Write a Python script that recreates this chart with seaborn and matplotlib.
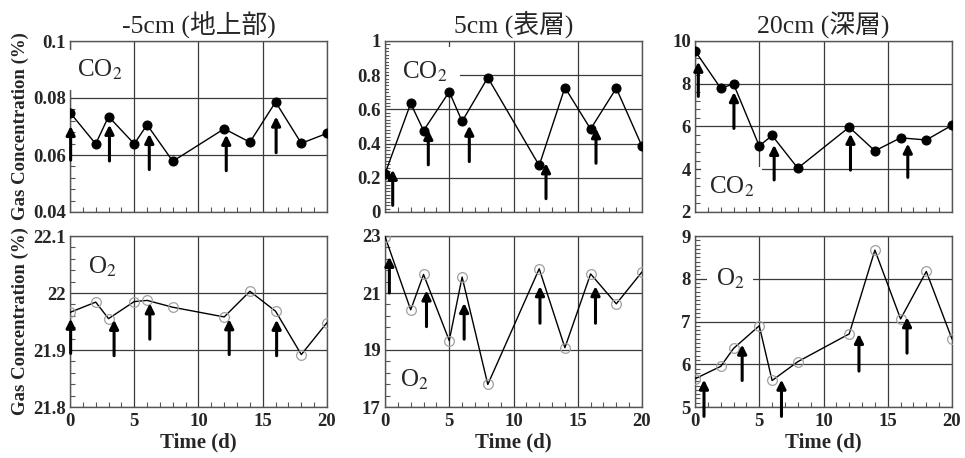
import numpy as np
import matplotlib
matplotlib.use('Agg')
import matplotlib.pyplot as plt
import seaborn as sns
from matplotlib.ticker import MultipleLocator, AutoMinorLocator, FixedLocator, FuncFormatter

sns.set_style('white')
plt.rcParams['font.family'] = ['Liberation Serif', 'Noto Sans CJK JP', 'DejaVu Sans']
plt.rcParams['mathtext.fontset'] = 'stix'

# sampling days
days = [0, 2, 3, 5, 6, 8, 12, 14, 16, 18, 20]

# CO2 (%) at each depth
co2_m5 = [0.0749, 0.0639, 0.0735, 0.0639, 0.0706, 0.0578, 0.0692, 0.0645, 0.0786, 0.0641, 0.0676]
co2_5 = [0.223, 0.635, 0.476, 0.703, 0.530, 0.786, 0.272, 0.728, 0.485, 0.724, 0.384]
co2_20 = [9.54, 7.79, 7.99, 5.09, 5.58, 4.05, 5.97, 4.86, 5.47, 5.37, 6.06]

# O2 (%) at each depth
o2_m5 = [21.966, 21.984, 21.955, 21.985, 21.987, 21.975, 21.958, 22.003, 21.968, 21.892, 21.948]
o2_5 = [22.98, 20.41, 21.65, 19.33, 21.56, 17.79, 21.85, 19.08, 21.67, 20.62, 21.74]
o2_20 = [5.66, 5.95, 6.37, 6.90, 5.62, 6.06, 6.71, 8.67, 7.06, 8.17, 6.59]

# arrows: day, tail value, tip value
arr_co2_m5 = ([0.05, 3.07, 6.17, 12.16, 16.04],
              [0.0582, 0.0579, 0.0549, 0.0545, 0.0608],
              [0.0702, 0.0706, 0.0674, 0.0671, 0.0735])
arr_co2_5 = ([0.6, 3.37, 6.56, 12.53, 16.42],
             [0.039, 0.276, 0.295, 0.078, 0.285],
             [0.247, 0.48, 0.505, 0.285, 0.49])
arr_co2_20 = ([0.26, 3.03, 6.16, 12.1, 16.56],
              [7.41, 5.91, 3.5, 3.96, 3.62],
              [9.03, 7.61, 5.14, 5.66, 5.2])
arr_o2_m5 = ([0.05, 3.43, 6.21, 12.39, 16.08],
             [21.894, 21.89, 21.919, 21.892, 21.89],
             [21.955, 21.953, 21.982, 21.954, 21.953])
arr_o2_5 = ([0.34, 3.23, 6.16, 12.06, 16.38],
            [21.0, 19.82, 19.38, 19.94, 19.94],
            [22.27, 21.09, 20.65, 21.24, 21.24])
arr_o2_20 = ([0.7, 3.67, 6.73, 12.76, 16.5],
             [4.78, 5.62, 4.78, 5.84, 6.26],
             [5.64, 6.46, 5.64, 6.71, 7.10])

titles = ['-5cm (地上部)', '5cm (表層)', '20cm (深層)']

# y settings: (min, max, major step, minor divisions)
ylims_co2 = [(0.04, 0.1, 0.02, 5), (0, 1, 0.2, 10), (2, 10, 2, 5)]
ylims_o2 = [(21.8, 22.1, 0.1, 5), (17, 23, 2, 5), (5, 9, 1, 10)]

# gas label placement (axes fraction) and box padding
co2_lab = [(0.117, 0.83, 6), (0.153, 0.82, 9), (0.142, 0.146, 6)]
o2_lab = [(0.126, 0.82, 5), (0.114, 0.157, 5), (0.136, 0.75, 6)]

fig = plt.figure(figsize=(9.65, 4.58), dpi=100)
W, H = 965, 458
lefts = [70, 385, 695]
aw = 257
tops = [41, 236]
ah = 171

grid_c = '#3a3a3a'


def style_axis(ax, lim, bottom_row):
    lo, hi, step, ndiv = lim
    ax.set_xlim(0, 20)
    ax.set_ylim(lo, hi)
    ax.xaxis.set_major_locator(MultipleLocator(5))
    ax.xaxis.set_minor_locator(MultipleLocator(1))
    ax.yaxis.set_major_locator(FixedLocator(np.round(np.arange(lo, hi + step / 2, step), 6)))
    ax.yaxis.set_minor_locator(AutoMinorLocator(ndiv))
    ax.yaxis.set_major_formatter(FuncFormatter(lambda v, p: '{:g}'.format(round(v, 6))))
    ax.grid(True, which='major', color=grid_c, lw=0.9)
    for s in ax.spines.values():
        s.set_color('#555555')
        s.set_linewidth(1.0)
    ax.tick_params(which='minor', direction='in', length=3.5, width=0.8, color='#555555',
                   bottom=True, left=True, top=False, right=False)
    ax.tick_params(which='major', direction='in', length=0, pad=3,
                   bottom=True, left=True, top=False, right=False)
    ax.tick_params(axis='y', which='major', labelsize=13.5)
    ax.tick_params(axis='x', which='major', labelsize=13.5, pad=4)
    for lab in ax.get_yticklabels() + ax.get_xticklabels():
        lab.set_fontweight('bold')
    if bottom_row:
        ax.set_xlabel('Time (d)', fontsize=15, fontweight='bold', labelpad=2)
    else:
        ax.set_xticklabels([])
        ax.set_xlabel('')
    ax.set_ylabel('')


def add_arrows(ax, arr):
    for x, y0, y1 in zip(*arr):
        ax.annotate('', xy=(x, y1), xytext=(x, y0), annotation_clip=False,
                    arrowprops=dict(arrowstyle='-|>', lw=2.2, color='black',
                                    mutation_scale=13, shrinkA=0, shrinkB=0),
                    zorder=5)


co2_data = [co2_m5, co2_5, co2_20]
o2_data = [o2_m5, o2_5, o2_20]
co2_arr = [arr_co2_m5, arr_co2_5, arr_co2_20]
o2_arr = [arr_o2_m5, arr_o2_5, arr_o2_20]

for j in range(3):
    # top row: CO2
    ax = fig.add_axes([lefts[j] / W, 1 - (tops[0] + ah) / H, aw / W, ah / H])
    sns.lineplot(x=days, y=co2_data[j], ax=ax, color='black', lw=1.0, marker='o',
                 markersize=6.5, markerfacecolor='black', markeredgecolor='black', zorder=4)
    style_axis(ax, ylims_co2[j], False)
    add_arrows(ax, co2_arr[j])
    ax.text(co2_lab[j][0], co2_lab[j][1], 'CO$_2$', transform=ax.transAxes, fontsize=18,
            ha='center', va='center', zorder=3,
            bbox=dict(fc='white', ec='none', pad=co2_lab[j][2]))
    ax.set_title(titles[j], fontsize=18.5, pad=5,
                 family=['Liberation Serif', 'Noto Sans CJK JP'])
    if j == 0:
        ax.set_ylabel('Gas Concentration (%)', fontsize=13.5, fontweight='bold', labelpad=3)

    # bottom row: O2
    ax2 = fig.add_axes([lefts[j] / W, 1 - (tops[1] + ah) / H, aw / W, ah / H])
    sns.lineplot(x=days, y=o2_data[j], ax=ax2, color='black', lw=1.0, marker='o',
                 markersize=7, markerfacecolor='none', markeredgecolor='#a0a0a0',
                 markeredgewidth=0.9, zorder=4)
    style_axis(ax2, ylims_o2[j], True)
    add_arrows(ax2, o2_arr[j])
    ax2.text(o2_lab[j][0], o2_lab[j][1], 'O$_2$', transform=ax2.transAxes, fontsize=18,
             ha='center', va='center', zorder=3,
             bbox=dict(fc='white', ec='none', pad=o2_lab[j][2]))
    if j == 0:
        ax2.set_ylabel('Gas Concentration (%)', fontsize=13.5, fontweight='bold', labelpad=3)

fig.savefig('out.png', dpi=100, facecolor='white')
